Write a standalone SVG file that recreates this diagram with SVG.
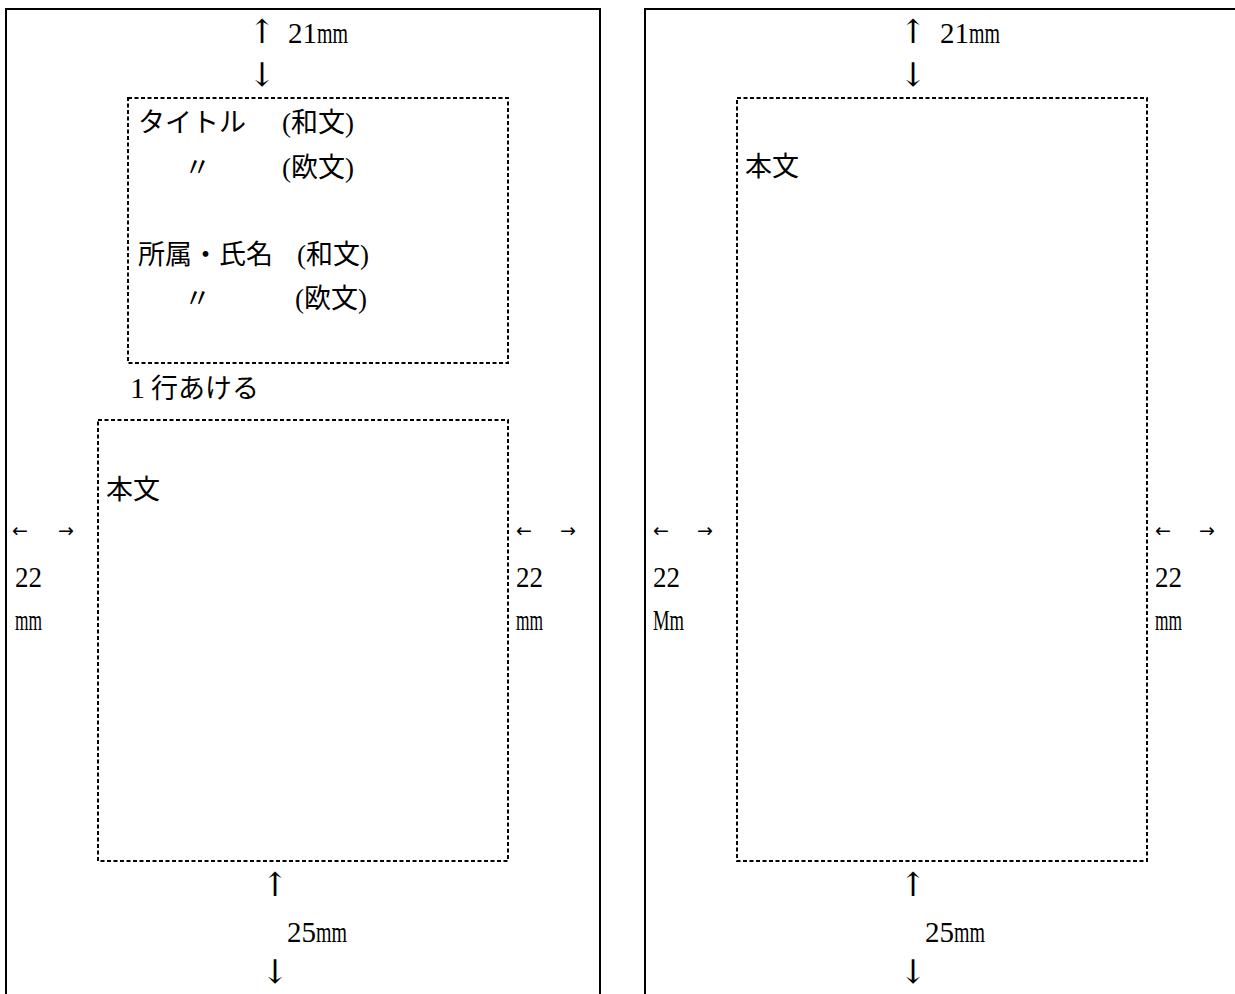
<svg xmlns="http://www.w3.org/2000/svg" width="1235" height="994" viewBox="0 0 1235 994">
<style>
.frame{fill:none;stroke:#000;stroke-width:2}
.box{fill:none;stroke:#000;stroke-width:2;stroke-dasharray:4 2.5}
.jp{font-family:"Liberation Serif","Noto Sans CJK JP",serif;font-size:27px;fill:#000}
.num{font-family:"Liberation Serif","Noto Sans CJK JP",serif;font-size:29px;fill:#000}
.mm{font-family:"Liberation Serif",serif;font-size:29px;fill:#000}
.arr{font-family:"DejaVu Serif","Liberation Serif",serif;font-size:33px;fill:#000;text-anchor:middle}
.harr{font-family:"DejaVu Sans","Liberation Serif",serif;font-size:19px;fill:#000}
</style>
<rect width="1235" height="994" fill="#fff"/>
<g id="page-left">
<path class="frame" d="M6,994 V9 H600 V994"/>
</g>
<g id="page-right">
<path class="frame" d="M645,994 V9 H1236"/>
</g>
<g id="title-box">
<rect class="box" x="128" y="98" width="380" height="265"/>
<text class="jp" x="138" y="132">タイトル</text>
<text class="jp" x="282" y="132">(和文)</text>
<text class="jp" x="184" y="177">〃</text>
<text class="jp" x="282" y="177">(欧文)</text>
<text class="jp" x="138" y="264">所属・氏名</text>
<text class="jp" x="297" y="264">(和文)</text>
<text class="jp" x="184" y="308">〃</text>
<text class="jp" x="295" y="308">(欧文)</text>
</g>
<g id="gap-label">
<text class="jp" x="130" y="398"><tspan font-size="30">1</tspan><tspan x="151">行あける</tspan></text>
</g>
<g id="body-left">
<rect class="box" x="98" y="420" width="410" height="441"/>
<text class="jp" x="106" y="499">本文</text>
</g>
<g id="body-right">
<rect class="box" x="737" y="98" width="410" height="763"/>
<text class="jp" x="745" y="176">本文</text>
</g>
<g id="connectors">
<text class="arr" x="262" y="43">↑</text>
<text class="arr" x="262" y="86">↓</text>
<text class="arr" x="275" y="896">↑</text>
<text class="arr" x="275" y="983">↓</text>
<text class="arr" x="913" y="43">↑</text>
<text class="arr" x="913" y="86">↓</text>
<text class="arr" x="913" y="896">↑</text>
<text class="arr" x="913" y="983">↓</text>
<text class="harr" x="12" y="537">←</text><text class="harr" x="58" y="537">→</text>
<text class="harr" x="516" y="537">←</text><text class="harr" x="560" y="537">→</text>
<text class="harr" x="653" y="537">←</text><text class="harr" x="697" y="537">→</text>
<text class="harr" x="1155" y="537">←</text><text class="harr" x="1199" y="537">→</text>
</g>
<g id="labels">
<text class="num" x="288" y="43"><tspan>21</tspan><tspan textLength="31" lengthAdjust="spacingAndGlyphs">mm</tspan></text>
<text class="num" x="940" y="43"><tspan>21</tspan><tspan textLength="31" lengthAdjust="spacingAndGlyphs">mm</tspan></text>
<text class="num" x="287" y="942"><tspan>25</tspan><tspan textLength="31" lengthAdjust="spacingAndGlyphs">mm</tspan></text>
<text class="num" x="925" y="942"><tspan>25</tspan><tspan textLength="31" lengthAdjust="spacingAndGlyphs">mm</tspan></text>
<text class="num" x="15" y="587" textLength="27" lengthAdjust="spacingAndGlyphs">22</text>
<text class="mm" x="15" y="630" textLength="27" lengthAdjust="spacingAndGlyphs">mm</text>
<text class="num" x="516" y="587" textLength="27" lengthAdjust="spacingAndGlyphs">22</text>
<text class="mm" x="516" y="630" textLength="27" lengthAdjust="spacingAndGlyphs">mm</text>
<text class="num" x="653" y="587" textLength="27" lengthAdjust="spacingAndGlyphs">22</text>
<text class="mm" x="653" y="630" textLength="31" lengthAdjust="spacingAndGlyphs">Mm</text>
<text class="num" x="1155" y="587" textLength="27" lengthAdjust="spacingAndGlyphs">22</text>
<text class="mm" x="1155" y="630" textLength="27" lengthAdjust="spacingAndGlyphs">mm</text>
</g>
</svg>
